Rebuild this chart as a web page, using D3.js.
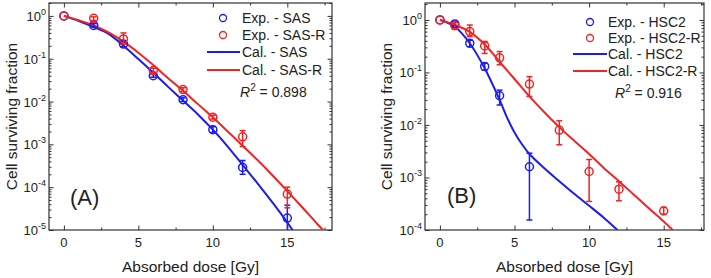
<!DOCTYPE html>
<html lang="en">
<head>
<meta charset="UTF-8">
<title>Cell surviving fraction</title>
<script src="https://d3js.org/d3.v7.min.js"></script>
<style>
    body { margin: 0; background: #fff; font-family: "Liberation Sans", Arial, sans-serif; }
    svg text { fill: #222; }
</style>
</head>
<body>
<svg id="chart" width="711" height="278"></svg>
<script>
    // Panel A : SAS / SAS-R
    const expSAS_x  = [0, 2, 4, 6, 8, 10, 12, 15];
    const expSAS_y  = [1, 0.6, 0.22, 0.04, 0.011, 0.0022, 2.9e-4, 1.9e-5];
    const expSAS_lo = [1, 0.55, 0.19, 0.037, 0.0100, 0.0019, 2.0e-4, 5e-6];
    const expSAS_hi = [1, 0.66, 0.25, 0.043, 0.0122, 0.0026, 4.2e-4, 3.8e-5];

    const expSASR_x  = [0, 2, 4, 6, 8, 10, 12, 15];
    const expSASR_y  = [1, 0.88, 0.29, 0.053, 0.019, 0.0043, 0.0015, 6.9e-5];
    const expSASR_lo = [1, 0.78, 0.22, 0.047, 0.017, 0.0039, 0.00089, 3.3e-5];
    const expSASR_hi = [1, 0.95, 0.40, 0.060, 0.021, 0.0048, 0.0021, 1.0e-4];

    const calSAS_x  = [0, 1, 2, 3, 4, 5, 6, 7, 8, 9, 10, 11, 12, 13, 14, 15, 15.35];
    const calSAS_y  = [1, 0.76, 0.55, 0.38, 0.2, 0.098, 0.047, 0.022, 0.0105, 0.005, 0.0022, 8.9e-4, 3.3e-4, 1.23e-4, 4.4e-5, 1.5e-5, 1e-5];
    const calSASR_x = [0, 1, 2, 3, 4, 5, 6, 7, 8, 9, 10, 11, 12, 13, 14, 15, 16, 17, 17.4];
    const calSASR_y = [1, 0.79, 0.6, 0.41, 0.25, 0.138, 0.071, 0.035, 0.0178, 0.0087, 0.0043, 0.002, 9.3e-4, 4.3e-4, 1.9e-4, 8.1e-5, 3.4e-5, 1.4e-5, 1e-5];

    // Panel B : HSC2 / HSC2-R
    const expHSC2_x  = [0, 1, 2, 3, 4, 6];
    const expHSC2_y  = [1, 0.84, 0.36, 0.13, 0.036, 0.0016];
    const expHSC2_lo = [1, 0.74, 0.31, 0.11, 0.024, 1.55e-4];
    const expHSC2_hi = [1, 0.92, 0.41, 0.15, 0.046, 0.0029];

    const expHSC2R_x  = [0, 1, 2, 3, 4, 6, 8, 10, 12, 15];
    const expHSC2R_y  = [1, 0.78, 0.6, 0.32, 0.19, 0.06, 0.008, 0.0013, 6.0e-4, 2.3e-4];
    const expHSC2R_lo = [1, 0.66, 0.48, 0.23, 0.14, 0.035, 0.0042, 3.5e-4, 3.6e-4, 2.0e-4];
    const expHSC2R_hi = [1, 0.90, 0.80, 0.39, 0.25, 0.083, 0.012, 0.0022, 8.3e-4, 2.7e-4];

    const calHSC2_x  = [0, 1, 2, 3, 4, 4.5, 5, 5.5, 6, 7, 8, 9, 10, 11, 11.9];
    const calHSC2_y  = [1, 0.74, 0.36, 0.12, 0.03, 0.0138, 0.0072, 0.0043, 0.0028, 0.0015, 8.5e-4, 4.9e-4, 2.9e-4, 1.7e-4, 1e-4];
    const calHSC2R_x = [0, 1, 2, 3, 4, 5, 6, 7, 8, 9, 10, 11, 12, 13, 14, 15, 15.6];
    const calHSC2R_y = [1, 0.81, 0.59, 0.34, 0.16, 0.075, 0.035, 0.0175, 0.0091, 0.005, 0.0028, 0.0015, 8.5e-4, 4.7e-4, 2.6e-4, 1.45e-4, 1e-4];

    const xMajor = [0, 5, 10, 15];
    const xMinor = [2.5, 7.5, 12.5, 17.5];

    const BLUE = "#1c1cf0";
    const RED = "#f02424";

    const svg = d3.select("#chart");

    function pts(xs, ys, lo, hi) {
        return xs.map((x, i) => ({ x, y: ys[i], lo: lo ? lo[i] : null, hi: hi ? hi[i] : null }));
    }

    function drawPanel(p) {
        const x = d3.scaleLinear().domain(p.xDomain).range([p.left, p.right]);
        const y = d3.scaleLog().domain(p.yDomain).range([p.bottom, p.top]);
        const g = svg.append("g");

        const clipId = "clip" + p.tag;
        g.append("clipPath").attr("id", clipId)
            .append("rect")
            .attr("x", p.left).attr("y", p.top)
            .attr("width", p.right - p.left).attr("height", p.bottom - p.top);

        // log ticks: majors (powers of ten) and minors
        const allY = y.ticks(10);
        const yMajor = allY.filter(v => Math.abs(Math.log10(v) - Math.round(Math.log10(v))) < 1e-9);
        const yMinor = allY.filter(v => !yMajor.includes(v));

        // inside ticks on all four sides
        const axes = [
            [d3.axisBottom(x), `translate(0,${p.bottom})`, xMajor, xMinor],
            [d3.axisTop(x), `translate(0,${p.top})`, xMajor, xMinor],
            [d3.axisLeft(y), `translate(${p.left},0)`, yMajor, yMinor],
            [d3.axisRight(y), `translate(${p.right},0)`, yMajor, yMinor]
        ];
        axes.forEach(([ax, tr, major, minor]) => {
            g.append("g").attr("transform", tr)
                .call(ax.tickValues(major).tickSize(-4.5).tickFormat(""))
                .call(s => s.select(".domain").remove())
                .selectAll("line").attr("stroke", "#333");
            g.append("g").attr("transform", tr)
                .call(ax.tickValues(minor).tickSize(-2.5).tickFormat(""))
                .call(s => s.select(".domain").remove())
                .selectAll("line").attr("stroke", "#333");
        });

        // frame
        g.append("rect")
            .attr("x", p.left).attr("y", p.top)
            .attr("width", p.right - p.left).attr("height", p.bottom - p.top)
            .attr("fill", "none").attr("stroke", "#333").attr("stroke-width", 1.2);

        // x tick labels
        g.selectAll(".xl").data(xMajor).enter().append("text")
            .attr("x", d => x(d)).attr("y", p.bottom + 17)
            .attr("text-anchor", "middle")
            .attr("font-size", 13)
            .text(d => d);

        // y tick labels 10^n
        yMajor.forEach(v => {
            const t = g.append("text")
                .attr("x", p.left - 3).attr("y", y(v) + 5)
                .attr("text-anchor", "end")
                .attr("font-size", 13);
            t.append("tspan").text("10");
            t.append("tspan").attr("dy", -6).attr("font-size", 9).text(Math.round(Math.log10(v)));
        });

        // axis titles
        g.append("text")
            .attr("x", (p.left + p.right) / 2).attr("y", p.bottom + 42)
            .attr("text-anchor", "middle").attr("font-size", 15.5)
            .text("Absorbed dose [Gy]");
        g.append("text")
            .attr("transform", `translate(${p.yTitleX},${(p.top + p.bottom) / 2}) rotate(-90)`)
            .attr("text-anchor", "middle").attr("dominant-baseline", "central")
            .attr("font-size", 15.5)
            .text("Cell surviving fraction");

        // panel tag
        g.append("text")
            .attr("x", p.tagX).attr("y", p.tagY)
            .attr("font-size", 22)
            .text("(" + p.tag + ")");

        const plot = g.append("g").attr("clip-path", `url(#${clipId})`);

        const line = d3.line()
            .x(d => x(d.x)).y(d => y(d.y))
            .curve(d3.curveCatmullRom.alpha(0.5));

        p.curves.forEach(c => {
            plot.append("path")
                .datum(c.data)
                .attr("d", line)
                .attr("fill", "none")
                .attr("stroke", c.color)
                .attr("stroke-width", 2);
        });

        p.exps.forEach(e => {
            const eg = plot.append("g");
            const bars = e.data.filter(d => d.hi / d.lo > 1.02);
            eg.selectAll(".eb").data(bars).enter().append("line")
                .attr("x1", d => x(d.x)).attr("x2", d => x(d.x))
                .attr("y1", d => y(d.lo)).attr("y2", d => y(d.hi))
                .attr("stroke", e.color).attr("stroke-width", 1.5);
            ["lo", "hi"].forEach(k => {
                eg.selectAll(".cap" + k).data(bars).enter().append("line")
                    .attr("x1", d => x(d.x) - 3).attr("x2", d => x(d.x) + 3)
                    .attr("y1", d => y(d[k])).attr("y2", d => y(d[k]))
                    .attr("stroke", e.color).attr("stroke-width", 1.5);
            });
            eg.selectAll("circle").data(e.data).enter().append("circle")
                .attr("cx", d => x(d.x)).attr("cy", d => y(d.y))
                .attr("r", 4)
                .attr("fill", "none")
                .attr("stroke", e.color).attr("stroke-width", 1.5);
        });

        // legend
        const lg = g.append("g");
        p.legend.forEach((item, i) => {
            const yy = p.legRows[i];
            if (item.type === "exp") {
                lg.append("circle")
                    .attr("cx", p.legMarkX).attr("cy", yy).attr("r", 3.5)
                    .attr("fill", "none").attr("stroke", item.color).attr("stroke-width", 1.3);
            } else {
                lg.append("line")
                    .attr("x1", p.legLineX[0]).attr("x2", p.legLineX[1])
                    .attr("y1", yy).attr("y2", yy)
                    .attr("stroke", item.color).attr("stroke-width", 2);
            }
            lg.append("text")
                .attr("x", p.legTextX).attr("y", yy + 5)
                .attr("font-size", 14)
                .text(item.label);
        });
        const r2 = lg.append("text")
            .attr("x", p.r2X).attr("y", p.r2Y + 5)
            .attr("font-size", 14);
        r2.append("tspan").attr("font-style", "italic").text("R");
        r2.append("tspan").attr("dy", -6).attr("font-size", 10).text("2");
        r2.append("tspan").attr("dy", 6).text(" = " + p.r2);
    }

    drawPanel({
        tag: "A",
        left: 49, right: 332, top: 3, bottom: 230,
        xDomain: [-1, 18], yDomain: [1e-5, 2],
        yTitleX: 11, tagX: 70, tagY: 205,
        curves: [
            { color: BLUE, data: pts(calSAS_x, calSAS_y) },
            { color: RED, data: pts(calSASR_x, calSASR_y) }
        ],
        exps: [
            { color: BLUE, data: pts(expSAS_x, expSAS_y, expSAS_lo, expSAS_hi) },
            { color: RED, data: pts(expSASR_x, expSASR_y, expSASR_lo, expSASR_hi) }
        ],
        legend: [
            { type: "exp", color: BLUE, label: "Exp. - SAS" },
            { type: "exp", color: RED, label: "Exp. - SAS-R" },
            { type: "cal", color: BLUE, label: "Cal. - SAS" },
            { type: "cal", color: RED, label: "Cal. - SAS-R" }
        ],
        legRows: [18, 35, 52, 70],
        legMarkX: 223, legTextX: 242, legLineX: [207, 240],
        r2X: 240, r2Y: 92, r2: "0.898"
    });

    drawPanel({
        tag: "B",
        left: 425, right: 704, top: 3, bottom: 230,
        xDomain: [-1, 17.7], yDomain: [1e-4, 2.1],
        yTitleX: 386, tagX: 447, tagY: 203,
        curves: [
            { color: BLUE, data: pts(calHSC2_x, calHSC2_y) },
            { color: RED, data: pts(calHSC2R_x, calHSC2R_y) }
        ],
        exps: [
            { color: BLUE, data: pts(expHSC2_x, expHSC2_y, expHSC2_lo, expHSC2_hi) },
            { color: RED, data: pts(expHSC2R_x, expHSC2R_y, expHSC2R_lo, expHSC2R_hi) }
        ],
        legend: [
            { type: "exp", color: BLUE, label: "Exp. - HSC2" },
            { type: "exp", color: RED, label: "Exp. - HSC2-R" },
            { type: "cal", color: BLUE, label: "Cal. - HSC2" },
            { type: "cal", color: RED, label: "Cal. - HSC2-R" }
        ],
        legRows: [22, 38, 54, 71],
        legMarkX: 590, legTextX: 608, legLineX: [573, 607],
        r2X: 615, r2Y: 93, r2: "0.916"
    });
</script>
</body>
</html>
